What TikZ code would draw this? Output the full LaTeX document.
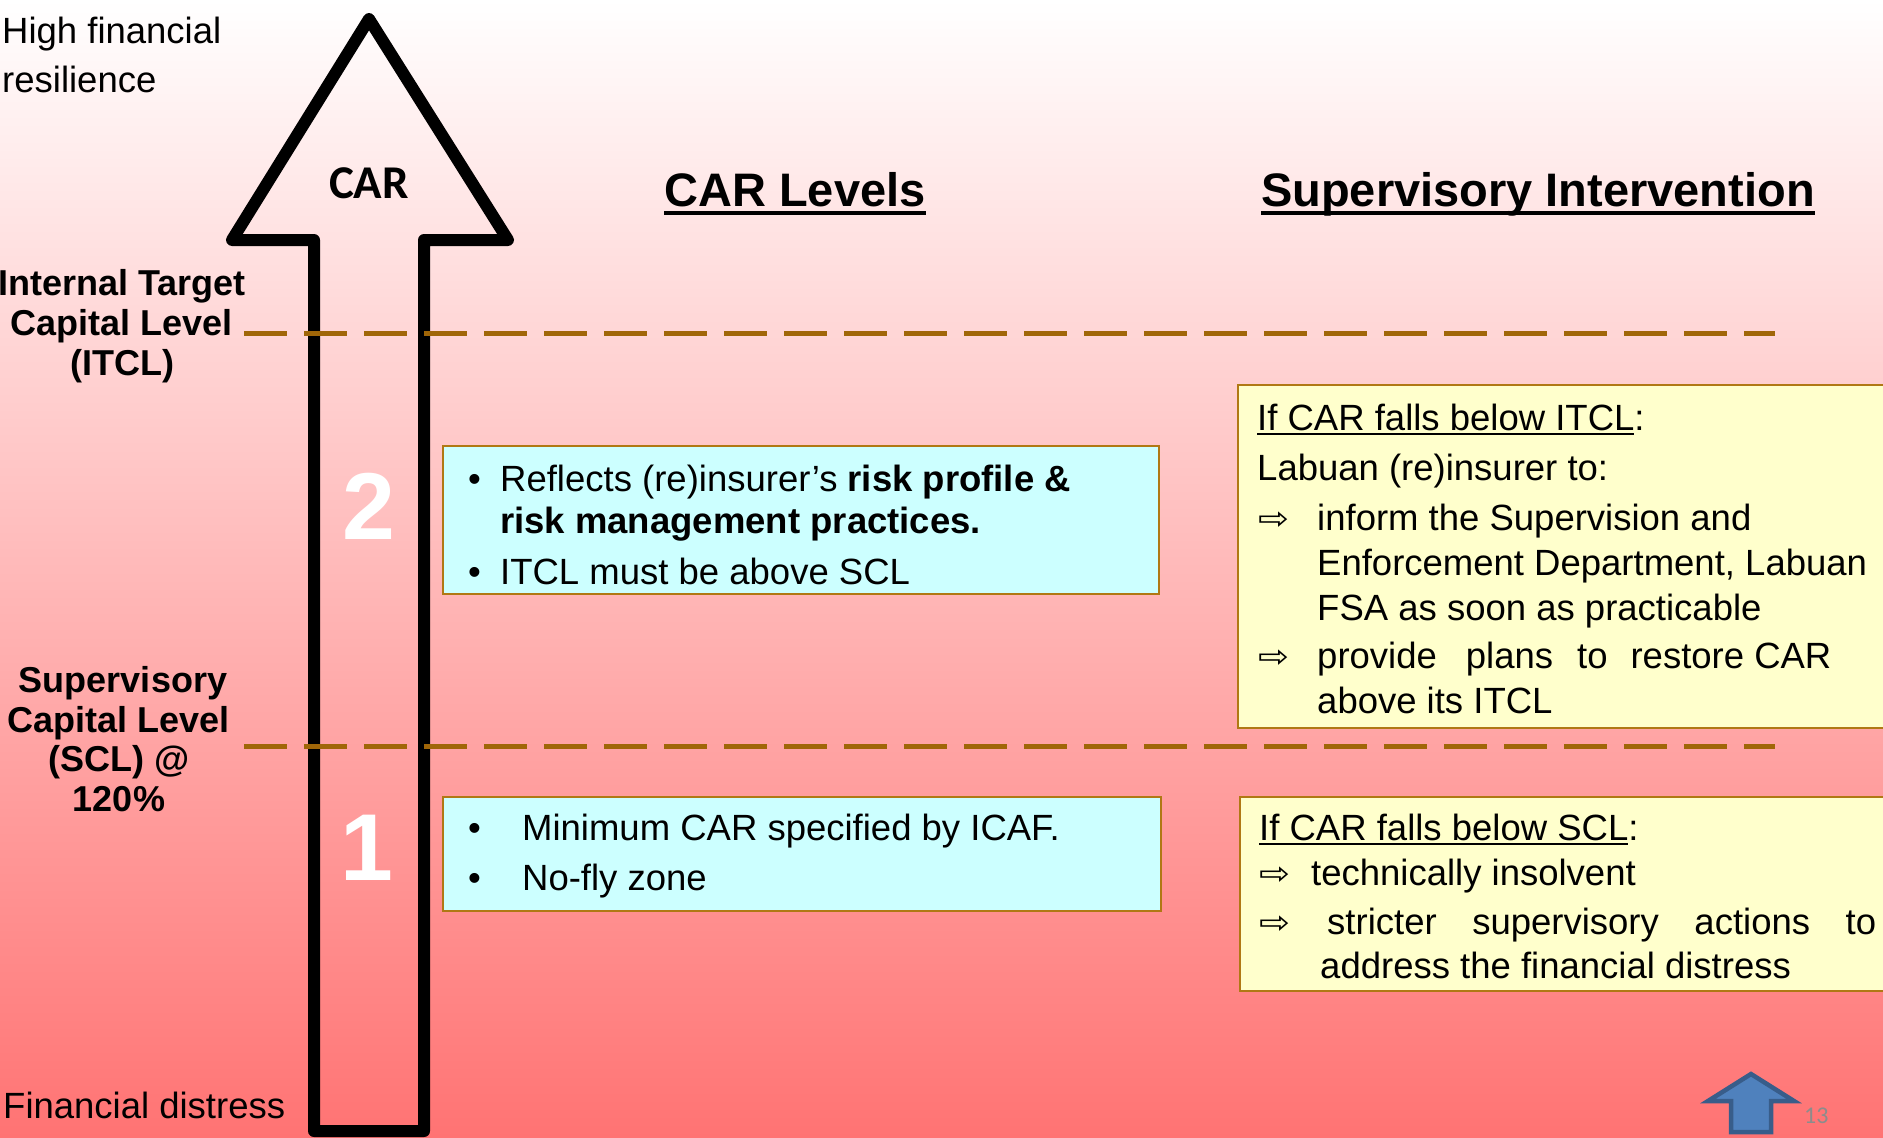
\documentclass[tikz,border=0pt]{standalone}
\usepackage{fontspec}
\setmainfont{Liberation Sans}
\newfontfamily\calfont{Carlito}
\newfontfamily\symfont{DejaVu Sans}
\usetikzlibrary{fit}

\definecolor{bgtop}{RGB}{255,255,255}
\definecolor{bgbot}{RGB}{255,115,115}
\definecolor{levelline}{RGB}{160,102,8}
\definecolor{boxedge}{RGB}{176,120,20}
\definecolor{cyanfill}{RGB}{204,255,255}
\definecolor{yellowfill}{RGB}{255,255,204}
\definecolor{navyfill}{RGB}{79,129,189}
\definecolor{navyedge}{RGB}{56,93,138}
\definecolor{pagenum}{RGB}{140,140,140}

\newcommand\fs[2]{\fontsize{#1}{#2}\selectfont}
% underline drawn as a rule of chosen depth and thickness
\newsavebox\ulbox
\newcommand\rulebelow[3]{\sbox\ulbox{#3}\rlap{\rule[-#1]{\wd\ulbox}{#2}}\usebox\ulbox}
\newcommand\openarrow{\raisebox{1pt}{\scalebox{1}[0.85]{\symfont\fs{37}{37}⇨}}}

\tikzset{
  txt/.style={inner sep=0pt, anchor=base west, font=\fs{36.5}{40}},
  sidelabel/.style={inner sep=0pt, anchor=base, font=\bfseries\fs{36}{40}},
  heading/.style={inner sep=0pt, anchor=base, font=\bfseries\fs{47}{50}},
  bignum/.style={inner sep=0pt, anchor=center, text=white, font=\bfseries\fs{95}{95}},
  levelrule/.style={draw=levelline, line width=5pt, dash pattern=on 43pt off 17pt},
  cyanbox/.style={draw=boxedge, line width=2.5pt, fill=cyanfill, inner sep=0pt},
  yellowbox/.style={draw=boxedge, line width=2.5pt, fill=yellowfill, inner sep=0pt},
}

\begin{document}
\begin{tikzpicture}[x=1pt,y=-1pt]
\useasboundingbox (0,0) rectangle (1883,1138);
\clip (0,0) rectangle (1883,1138);

% background gradient
\shade[top color=bgtop, bottom color=bgbot] (0,0) rectangle (1883,1138);

% large CAR arrow
\draw[line width=12pt, line join=round]
  (369,19) -- (508,240) -- (424,240) -- (424,1131) -- (314,1131)
  -- (314,240) -- (232,240) -- cycle;
\node[inner sep=0pt, anchor=base, font=\calfont\bfseries\fs{47}{50}] (car) at (369,198) {CAR};
\node[bignum] (n2) at (369,506) {2};
\node[bignum] (n1) at (367,848) {1};

% level lines
\coordinate (itclL) at (244,333);
\coordinate (itclR) at (1775,333);
\coordinate (sclL) at (244,746);
\coordinate (sclR) at (1775,746);
\draw[levelrule] (itclL) -- (itclR);
\draw[levelrule] (sclL) -- (sclR);

% left-hand labels
\node[txt] (high1) at (2,43) {High financial};
\node[txt] (high2) at (2,92) {resilience};
\node[txt] (distress) at (3,1118) {Financial distress};

\node[sidelabel] (itcl1) at (122,295) {Internal Target};
\node[sidelabel] (itcl2) at (122,335) {Capital Level};
\node[sidelabel] (itcl3) at (122,375) {(ITCL)};

\node[sidelabel] (scl1) at (123,692) {Supervisory};
\node[sidelabel] (scl2) at (119,732) {Capital Level};
\node[sidelabel] (scl3) at (119,771) {(SCL) @};
\node[sidelabel] (scl4) at (119,811) {120\%};

% column headings
\node[heading] (hlevels) at (795,206) {\rulebelow{9pt}{4.5pt}{CAR Levels}};
\node[heading] (hsuper) at (1538,206) {\rulebelow{9pt}{4.5pt}{Supervisory Intervention}};

% CAR level boxes
\node[cyanbox, fit={(443,446) (1159,594)}] (box2) {};
\node[txt] (b2a) at (468,491) {\makebox[32pt][l]{•}Reflects (re)insurer’s \textbf{risk profile \&}};
\node[txt] (b2b) at (500,533) {\textbf{risk management practices.}};
\node[txt] (b2c) at (468,584) {\makebox[32pt][l]{•}ITCL must be above SCL};

\node[cyanbox, fit={(443,797) (1161,911)}] (box1) {};
\node[txt] (b1a) at (468,840) {\makebox[54pt][l]{•}Minimum CAR specified by ICAF.};
\node[txt] (b1b) at (468,890) {\makebox[54pt][l]{•}No-fly zone};

% supervisory intervention boxes
\node[yellowbox, fit={(1238,385) (1900,728)}] (sup2) {};
\node[txt] (s2a) at (1257,430) {\rulebelow{5pt}{2.5pt}{If CAR falls below ITCL}:};
\node[txt] (s2b) at (1257,480) {Labuan (re)insurer to:};
\node[txt] (s2c) at (1258,530) {\makebox[59pt][l]{\openarrow}inform the Supervision and};
\node[txt] (s2d) at (1317,575) {Enforcement Department, Labuan};
\node[txt] (s2e) at (1317,620) {FSA as soon as practicable};
\node[txt] (s2f) at (1258,668) {\makebox[59pt][l]{\openarrow}provide\hspace{29pt}plans\hspace{24pt}to\hspace{23pt}restore CAR};
\node[txt] (s2g) at (1317,713) {above its ITCL};

\node[yellowbox, fit={(1240,797) (1900,991)}] (sup1) {};
\node[txt] (s1a) at (1259,840) {\rulebelow{5pt}{2.5pt}{If CAR falls below SCL}:};
\node[txt] (s1b) at (1259,885) {\makebox[52pt][l]{\openarrow}technically insolvent};
\node[txt] (s1c) at (1259,934) {\makebox[68pt][l]{\openarrow}\makebox[549pt][s]{stricter supervisory actions to}};
\node[txt] (s1d) at (1320,978) {address the financial distress};

% small navigation arrow and page number
\draw[fill=navyfill, draw=navyedge, line width=4.5pt, line join=miter]
  (1751,1074) -- (1794,1101) -- (1771,1101) -- (1771,1132) -- (1731,1132)
  -- (1731,1101) -- (1708,1101) -- cycle;
\node[inner sep=0pt, anchor=base west, text=pagenum, font=\calfont\fs{24}{24}] (pnum) at (1804,1123) {13};
\end{tikzpicture}
\end{document}
